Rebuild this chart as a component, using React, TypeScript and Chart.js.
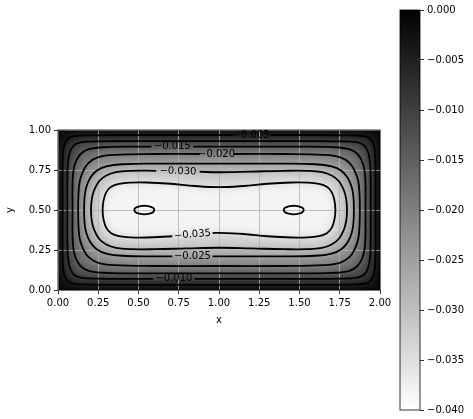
import React, { useEffect, useRef } from 'react';
import { Chart, registerables } from 'chart.js';

Chart.register(...registerables);

// ---- axes / colour scale ----
const X_TICKS = [0, 0.25, 0.5, 0.75, 1.0, 1.25, 1.5, 1.75, 2.0];
const Y_TICKS = [0, 0.25, 0.5, 0.75, 1.0];
const CBAR_TICKS = [0, -0.005, -0.01, -0.015, -0.02, -0.025, -0.03, -0.035, -0.04];
const X_RANGE = [0, 2];
const Y_RANGE = [0, 1];
const VMIN = -0.04;
const VMAX = 0;

// ---- contour levels (one entry per drawn curve) ----
const LEVELS = [-0.005, -0.01, -0.015, -0.02, -0.025, -0.03, -0.035, -0.04, -0.04];
// value used to shade the region enclosed by each curve, and the band next to the wall
const BAND_WALL = -0.0025;
const BAND_FILL = [-0.0075, -0.0125, -0.0175, -0.0225, -0.0275, -0.0325, -0.0383, -0.0402, -0.0402];

// ---- contour curves (x, y); open where a label sits ----
const C005 = [[1.32,0.968],[1.5,0.968],[1.8,0.967],[1.9,0.962],[1.935,0.948],[1.958,0.915],[1.969,0.86],[1.972,0.75],[1.972,0.5],[1.972,0.25],[1.969,0.14],[1.958,0.085],[1.935,0.052],[1.9,0.038],[1.8,0.033],[1.5,0.032],[1.0,0.032],[0.5,0.032],[0.2,0.033],[0.1,0.038],[0.065,0.052],[0.042,0.085],[0.031,0.14],[0.028,0.25],[0.028,0.5],[0.028,0.75],[0.031,0.86],[0.042,0.915],[0.065,0.948],[0.1,0.962],[0.2,0.967],[0.5,0.968],[1.0,0.968],[1.09,0.968]];
const C010 = [[0.85,0.07],[1.0,0.07],[1.5,0.07],[1.75,0.071],[1.86,0.078],[1.9,0.095],[1.925,0.135],[1.938,0.2],[1.942,0.3],[1.942,0.5],[1.942,0.7],[1.938,0.8],[1.925,0.865],[1.9,0.905],[1.86,0.922],[1.75,0.929],[1.5,0.93],[1.0,0.93],[0.5,0.93],[0.25,0.929],[0.14,0.922],[0.1,0.905],[0.075,0.865],[0.062,0.8],[0.058,0.7],[0.058,0.5],[0.058,0.3],[0.062,0.2],[0.075,0.135],[0.1,0.095],[0.14,0.078],[0.25,0.071],[0.5,0.07],[0.59,0.07]];
const C015 = [[0.84,0.896],[1.0,0.896],[1.5,0.896],[1.7,0.893],[1.81,0.88],[1.86,0.85],[1.89,0.8],[1.905,0.74],[1.91,0.65],[1.91,0.5],[1.91,0.35],[1.905,0.26],[1.89,0.2],[1.86,0.15],[1.81,0.12],[1.7,0.107],[1.5,0.104],[1.0,0.104],[0.5,0.104],[0.3,0.107],[0.19,0.12],[0.14,0.15],[0.11,0.2],[0.095,0.26],[0.09,0.35],[0.09,0.5],[0.09,0.65],[0.095,0.74],[0.11,0.8],[0.14,0.85],[0.19,0.88],[0.3,0.893],[0.5,0.896],[0.58,0.896]];
const C020 = [[1.09,0.85],[1.4,0.85],[1.65,0.845],[1.75,0.83],[1.81,0.795],[1.845,0.74],[1.865,0.68],[1.873,0.6],[1.875,0.5],[1.873,0.4],[1.865,0.32],[1.845,0.26],[1.81,0.205],[1.75,0.17],[1.65,0.155],[1.4,0.15],[1.0,0.15],[0.6,0.15],[0.35,0.155],[0.25,0.17],[0.19,0.205],[0.155,0.26],[0.135,0.32],[0.127,0.4],[0.125,0.5],[0.127,0.6],[0.135,0.68],[0.155,0.74],[0.19,0.795],[0.25,0.83],[0.35,0.845],[0.6,0.85],[0.88,0.85]];
const C025 = [[0.96,0.21],[1.2,0.21],[1.4,0.21],[1.6,0.214],[1.7,0.228],[1.76,0.255],[1.8,0.3],[1.825,0.36],[1.835,0.42],[1.838,0.5],[1.835,0.58],[1.825,0.64],[1.8,0.7],[1.76,0.745],[1.7,0.772],[1.6,0.786],[1.4,0.79],[1.0,0.79],[0.6,0.79],[0.4,0.786],[0.3,0.772],[0.24,0.745],[0.2,0.7],[0.175,0.64],[0.165,0.58],[0.162,0.5],[0.165,0.42],[0.175,0.36],[0.2,0.3],[0.24,0.255],[0.3,0.228],[0.4,0.214],[0.6,0.21],[0.71,0.21]];
const C030 = [[0.88,0.739],[1.0,0.736],[1.2,0.74],[1.4,0.745],[1.55,0.745],[1.64,0.737],[1.7,0.716],[1.745,0.68],[1.775,0.625],[1.79,0.57],[1.795,0.5],[1.79,0.43],[1.775,0.375],[1.745,0.32],[1.7,0.284],[1.64,0.263],[1.55,0.255],[1.4,0.255],[1.2,0.26],[1.0,0.264],[0.8,0.26],[0.6,0.255],[0.45,0.255],[0.36,0.263],[0.3,0.284],[0.255,0.32],[0.225,0.375],[0.21,0.43],[0.205,0.5],[0.21,0.57],[0.225,0.625],[0.255,0.68],[0.3,0.716],[0.36,0.737],[0.45,0.745],[0.61,0.745]];
const C035 = [[0.96,0.356],[1.0,0.357],[1.15,0.35],[1.3,0.336],[1.45,0.328],[1.55,0.329],[1.62,0.337],[1.67,0.355],[1.7,0.388],[1.717,0.44],[1.723,0.5],[1.717,0.56],[1.7,0.612],[1.67,0.645],[1.62,0.663],[1.55,0.671],[1.45,0.672],[1.3,0.664],[1.15,0.65],[1.0,0.643],[0.85,0.65],[0.7,0.664],[0.55,0.672],[0.45,0.671],[0.38,0.663],[0.33,0.645],[0.3,0.612],[0.283,0.56],[0.277,0.5],[0.283,0.44],[0.3,0.388],[0.33,0.355],[0.38,0.337],[0.45,0.329],[0.55,0.328],[0.71,0.336]];
const C040L = [[0.536,0.527],[0.567,0.523],[0.59,0.5135],[0.598,0.5],[0.59,0.4865],[0.567,0.477],[0.536,0.473],[0.505,0.477],[0.482,0.4865],[0.474,0.5],[0.482,0.5135],[0.505,0.523],[0.536,0.527]];
const C040R = [[1.464,0.527],[1.495,0.523],[1.518,0.5135],[1.526,0.5],[1.518,0.4865],[1.495,0.477],[1.464,0.473],[1.433,0.477],[1.41,0.4865],[1.402,0.5],[1.41,0.5135],[1.433,0.523],[1.464,0.527]];
const CONTOURS = [C005, C010, C015, C020, C025, C030, C035, C040L, C040R];

// ---- inline contour labels ----
const LABEL_TEXT = ['\u22120.005', '\u22120.010', '\u22120.015', '\u22120.020', '\u22120.025', '\u22120.030', '\u22120.035'];
const LABEL_X = [1.2, 0.72, 0.71, 0.985, 0.835, 0.745, 0.835];
const LABEL_Y = [0.968, 0.07, 0.896, 0.85, 0.21, 0.742, 0.346];
const LABEL_ROT = [0, 0, 0, 0, 0, 1.5, -4.5];

const FONT = "'DejaVu Sans', sans-serif";

function grayOf(v: number) {
  const t = Math.max(0, Math.min(1, (v - VMAX) / (VMIN - VMAX)));
  const g = Math.round(255 * t);
  return `rgb(${g},${g},${g})`;
}

function fmtCbar(v: number) {
  if (Math.abs(v) < 1e-9) return '0.000';
  return (v < 0 ? '\u2212' : '') + Math.abs(v).toFixed(3);
}

const fieldPlugin = {
  id: 'field',
  beforeDraw(chart: any) {
    const { ctx, chartArea: a, scales } = chart;
    const xs = scales.x, ys = scales.y;
    const m = 16;
    const w = Math.ceil(a.right - a.left) + 2 * m;
    const h = Math.ceil(a.bottom - a.top) + 2 * m;
    const off = document.createElement('canvas');
    off.width = w; off.height = h;
    const o = off.getContext('2d')!;
    const px = (v: number) => xs.getPixelForValue(v) - a.left + m;
    const py = (v: number) => ys.getPixelForValue(v) - a.top + m;
    o.fillStyle = grayOf(VMAX);
    o.fillRect(0, 0, w, h);
    o.fillStyle = grayOf(BAND_WALL);
    o.fillRect(px(X_RANGE[0]), py(Y_RANGE[1]), px(X_RANGE[1]) - px(X_RANGE[0]), py(Y_RANGE[0]) - py(Y_RANGE[1]));
    CONTOURS.forEach((pts, i) => {
      o.fillStyle = grayOf(BAND_FILL[i]);
      o.beginPath();
      pts.forEach(([u, v], k) => (k ? o.lineTo(px(u), py(v)) : o.moveTo(px(u), py(v))));
      o.closePath();
      o.fill();
    });
    ctx.save();
    ctx.beginPath();
    ctx.rect(a.left, a.top, a.right - a.left, a.bottom - a.top);
    ctx.clip();
    ctx.filter = 'blur(5px)';
    ctx.drawImage(off, a.left - m, a.top - m);
    ctx.restore();
  },
};

const labelPlugin = {
  id: 'clabels',
  afterDatasetsDraw(chart: any) {
    const { ctx, scales } = chart;
    ctx.save();
    ctx.fillStyle = '#000';
    ctx.font = `10px ${FONT}`;
    ctx.textAlign = 'center';
    ctx.textBaseline = 'middle';
    LABEL_TEXT.forEach((t, i) => {
      const x = scales.x.getPixelForValue(LABEL_X[i]);
      const y = scales.y.getPixelForValue(LABEL_Y[i]);
      ctx.save();
      ctx.translate(x, y);
      ctx.rotate((LABEL_ROT[i] * Math.PI) / 180);
      ctx.fillText(t, 0, 0);
      ctx.restore();
    });
    ctx.restore();
  },
};

const framePlugin = {
  id: 'frame',
  afterDraw(chart: any) {
    const { ctx, chartArea: a } = chart;
    ctx.save();
    ctx.strokeStyle = '#000';
    ctx.lineWidth = 0.8;
    ctx.strokeRect(a.left, a.top, a.right - a.left, a.bottom - a.top);
    ctx.restore();
  },
};

const cbarPlugin = {
  id: 'cbar',
  beforeDraw(chart: any) {
    const { ctx, chartArea: a, scales } = chart;
    const top = scales.y.getPixelForValue(VMAX);
    const bot = scales.y.getPixelForValue(VMIN);
    const g = ctx.createLinearGradient(0, top, 0, bot);
    g.addColorStop(0, grayOf(VMAX));
    g.addColorStop(1, grayOf(VMIN));
    ctx.save();
    ctx.fillStyle = g;
    ctx.fillRect(a.left, top, a.right - a.left, bot - top);
    ctx.restore();
  },
  afterDraw(chart: any) {
    const { ctx, chartArea: a } = chart;
    ctx.save();
    ctx.strokeStyle = '#000';
    ctx.lineWidth = 0.8;
    ctx.strokeRect(a.left, a.top, a.right - a.left, a.bottom - a.top);
    ctx.restore();
  },
};

export default function App() {
  const mainRef = useRef<HTMLCanvasElement>(null);
  const cbRef = useRef<HTMLCanvasElement>(null);

  useEffect(() => {
    Chart.defaults.font.family = FONT;
    Chart.defaults.font.size = 10;
    Chart.defaults.color = '#000';

    const main = new Chart(mainRef.current as HTMLCanvasElement, {
      type: 'scatter',
      data: {
        datasets: CONTOURS.map((pts, i) => ({
          label: String(LEVELS[i]),
          data: pts.map(([x, y]) => ({ x, y })),
          showLine: true,
          pointRadius: 0,
          pointHoverRadius: 0,
          borderColor: '#000',
          borderWidth: 1.8,
          tension: 0.4,
          fill: false,
        })),
      },
      options: {
        responsive: false,
        animation: false,
        events: [],
        layout: { padding: { left: 0, right: 20, top: 130, bottom: 89 } },
        plugins: { legend: { display: false }, tooltip: { enabled: false } },
        scales: {
          x: {
            type: 'linear',
            min: X_RANGE[0],
            max: X_RANGE[1],
            afterBuildTicks: (s: any) => { s.ticks = X_TICKS.map((v) => ({ value: v })); },
            afterFit: (s: any) => { s.height = 40; },
            ticks: { callback: (v: any) => Number(v).toFixed(2), padding: 3, maxRotation: 0, autoSkip: false, color: '#000' },
            grid: { color: '#b0b0b0', lineWidth: 0.8, tickColor: '#000', tickLength: 4, tickWidth: 0.8 },
            border: { display: false },
            title: { display: true, text: 'x', color: '#000', padding: { top: 0, bottom: 4 } },
          },
          y: {
            type: 'linear',
            min: Y_RANGE[0],
            max: Y_RANGE[1],
            afterBuildTicks: (s: any) => { s.ticks = Y_TICKS.map((v) => ({ value: v })); },
            afterFit: (s: any) => { s.width = 58; },
            ticks: { callback: (v: any) => Number(v).toFixed(2), padding: 3, autoSkip: false, color: '#000' },
            grid: { color: '#b0b0b0', lineWidth: 0.8, tickColor: '#000', tickLength: 4, tickWidth: 0.8 },
            border: { display: false },
            title: { display: true, text: 'y', color: '#000', padding: { top: 4, bottom: 0 } },
          },
        },
      } as any,
      plugins: [fieldPlugin, labelPlugin, framePlugin],
    });

    const cb = new Chart(cbRef.current as HTMLCanvasElement, {
      type: 'scatter',
      data: { datasets: [] },
      options: {
        responsive: false,
        animation: false,
        events: [],
        layout: { padding: { left: 10, right: 0, top: 10, bottom: 9 } },
        plugins: { legend: { display: false }, tooltip: { enabled: false } },
        scales: {
          x: { display: false },
          y: {
            position: 'right',
            min: VMIN,
            max: VMAX,
            afterBuildTicks: (s: any) => { s.ticks = CBAR_TICKS.map((v) => ({ value: v })); },
            afterFit: (s: any) => { s.width = 53; },
            ticks: { callback: (v: any) => fmtCbar(Number(v)), padding: 3, autoSkip: false, color: '#000' },
            grid: { drawOnChartArea: false, tickColor: '#000', tickLength: 4, tickWidth: 0.8 },
            border: { display: false },
          },
        },
      } as any,
      plugins: [cbarPlugin],
    });

    return () => {
      main.destroy();
      cb.destroy();
    };
  }, []);

  return (
    <div style={{ position: 'absolute', left: 0, top: 0, width: 473, height: 419, background: '#fff' }}>
      <canvas ref={mainRef} width={400} height={419} style={{ position: 'absolute', left: 0, top: 0, width: 400, height: 419 }} />
      <canvas ref={cbRef} width={83} height={419} style={{ position: 'absolute', left: 390, top: 0, width: 83, height: 419 }} />
    </div>
  );
}
